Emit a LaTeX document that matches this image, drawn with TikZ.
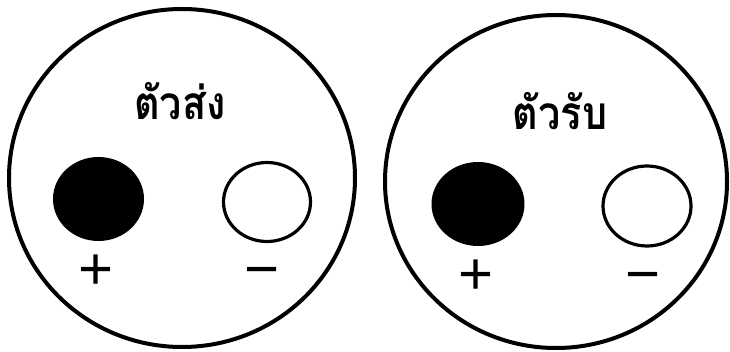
\documentclass[tikz,border=0pt]{standalone}
\usepackage{fontspec}
\newfontfamily\thaifont[Script=Thai]{Loma}
\newfontfamily\signfont{Liberation Sans}
\usetikzlibrary{shapes.geometric}
\tikzset{
  big/.style={draw=black, line width=4pt, ellipse, inner sep=0pt},
  pin/.style={ellipse, inner sep=0pt},
  hollow/.style={pin, draw=black, line width=3.2pt},
  label/.style={font=\thaifont\bfseries\fontsize{46}{46}\selectfont, inner sep=0pt, xscale=0.86},
  sign/.style={font=\signfont\fontsize{60}{60}\selectfont, inner sep=0pt, anchor=base}
}
\begin{document}
\begin{tikzpicture}[x=1pt,y=1pt]
\useasboundingbox (0,0) rectangle (730,351);
\fill[white] (0,0) rectangle (730,351);
% left
\node[big, minimum width=346pt, minimum height=338pt] (L) at (182,173) {};
\node[label] (Lt) at (180,250) {ตัวส่ง};
\node[pin, fill=black, minimum width=91pt, minimum height=84pt] (Lp) at (98.5,152) {};
\node[hollow, minimum width=87pt, minimum height=79pt] (Lm) at (267,149) {};
\node[sign] (Lps) at (96,62) {+};
\node[sign] (Lms) at (262,62) {−};
% right
\node[big, minimum width=342pt, minimum height=333pt] (R) at (556,169.5) {};
\node[label] (Rt) at (560,240) {ตัวรับ};
\node[pin, fill=black, minimum width=93pt, minimum height=84pt] (Rp) at (478,147) {};
\node[hollow, minimum width=88pt, minimum height=80pt] (Rm) at (647,145) {};
\node[sign] (Rps) at (476,57) {+};
\node[sign] (Rms) at (643,57) {−};
\end{tikzpicture}
\end{document}
